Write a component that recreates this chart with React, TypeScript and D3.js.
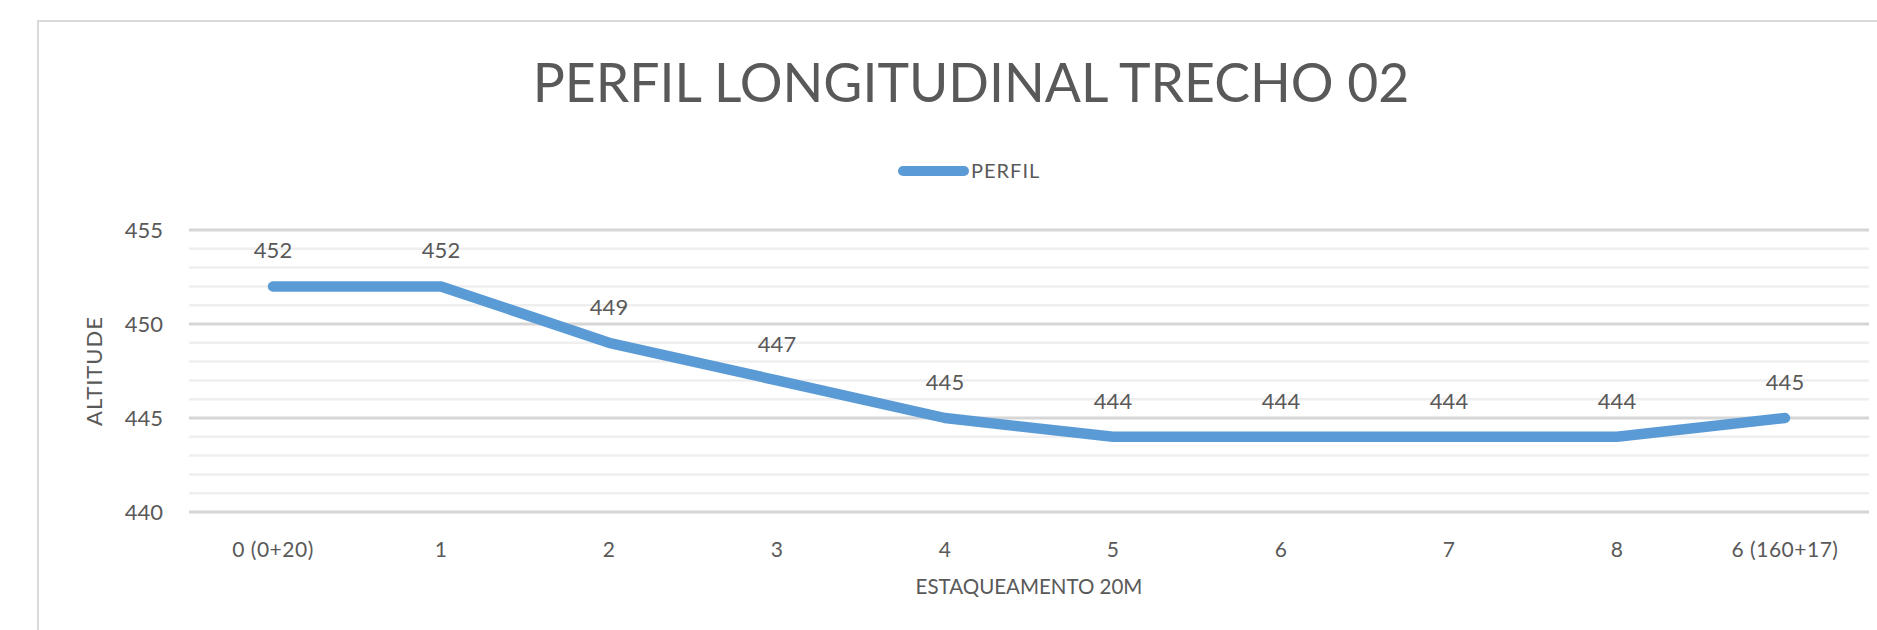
import React from 'react';
import * as d3 from 'd3';

const categories = ['0 (0+20)', '1', '2', '3', '4', '5', '6', '7', '8', '6 (160+17)'];
const perfil = [452, 452, 449, 447, 445, 444, 444, 444, 444, 445];
const yTicks = [440, 445, 450, 455];
const minorTicks = d3.range(440, 456, 1);

const W = 1877;
const H = 630;
const FONT = 'Lato, "Open Sans", sans-serif';
const GREY = '#595959';
const BLUE = '#5B9BD5';

export default function App() {
    const margin = {left: 189, right: 8, top: 230, bottom: 118};

    const x = d3.scaleBand<string>()
        .domain(categories)
        .range([margin.left, W - margin.right]);

    const y = d3.scaleLinear()
        .domain([440, 455])
        .range([H - margin.bottom, margin.top]);

    const cx = (c: string) => (x(c) as number) + x.bandwidth() / 2;

    const line = d3.line<number>()
        .x((_, i) => cx(categories[i]))
        .y(d => y(d));

    const plotCenter = (margin.left + W - margin.right) / 2;

    return (
        <svg width={W} height={H} style={{position: 'absolute', left: 0, top: 0}} fontFamily={FONT}>
            <rect x={0} y={0} width={W} height={H} fill="#fff"/>
            {/* chart border */}
            <rect x={38} y={21} width={W} height={H} fill="none" stroke="#d9d9d9" strokeWidth={2}/>

            <text x={971} y={102} textAnchor="middle" fontSize={53.5} fill={GREY}>
                PERFIL LONGITUDINAL TRECHO 02
            </text>

            {/* legend */}
            <line x1={903} x2={964} y1={171} y2={171} stroke={BLUE} strokeWidth={10} strokeLinecap="round"/>
            <text x={971} y={178} fontSize={20} letterSpacing={1} fill={GREY}>PERFIL</text>

            {/* minor gridlines */}
            {minorTicks.filter(t => t % 5 !== 0).map(t => (
                <line key={'m' + t} x1={margin.left} x2={W - margin.right} y1={y(t)} y2={y(t)}
                      stroke="#efefef" strokeWidth={2.5}/>
            ))}
            {/* major gridlines */}
            {yTicks.map(t => (
                <line key={'g' + t} x1={margin.left} x2={W - margin.right} y1={y(t)} y2={y(t)}
                      stroke="#d6d6d6" strokeWidth={3}/>
            ))}

            {/* y tick labels */}
            {yTicks.map(t => (
                <text key={'y' + t} x={163} y={y(t)} dy="0.36em" textAnchor="end" fontSize={22} fill={GREY}>
                    {t}
                </text>
            ))}
            <text transform={`translate(102, ${y(447.5)}) rotate(-90)`} textAnchor="middle" fontSize={22}
                  letterSpacing={1} fill={GREY}>
                ALTITUDE
            </text>

            {/* x tick labels */}
            {categories.map(c => (
                <text key={'x' + c} x={cx(c)} y={557} textAnchor="middle" fontSize={21} letterSpacing={0.5}
                      fill={GREY}>
                    {c}
                </text>
            ))}
            <text x={plotCenter} y={594} textAnchor="middle" fontSize={20.5} fill={GREY}>
                ESTAQUEAMENTO 20M
            </text>

            {/* series */}
            <path d={line(perfil) ?? ''} fill="none" stroke={BLUE} strokeWidth={10.5}
                  strokeLinecap="round" strokeLinejoin="round"/>

            {/* data labels */}
            {perfil.map((v, i) => (
                <text key={'d' + i} x={cx(categories[i])} y={y(v) - 28}
                      textAnchor="middle" fontSize={22} fill={GREY}>
                    {v}
                </text>
            ))}
        </svg>
    );
}
